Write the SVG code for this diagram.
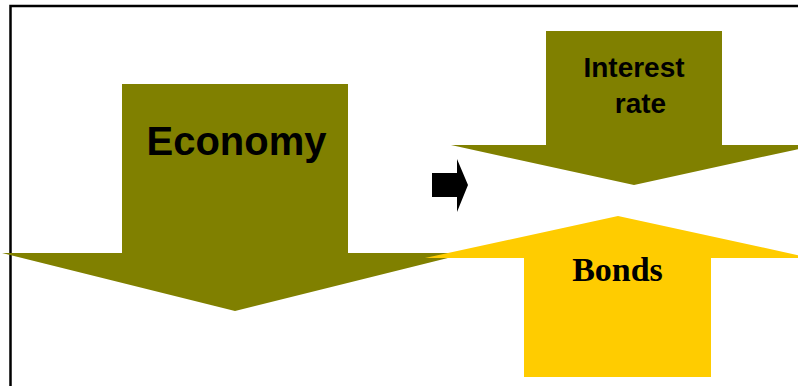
<svg xmlns="http://www.w3.org/2000/svg" width="798" height="386" viewBox="0 0 798 386">
  <style>
    .olive { fill: #808000; }
    .gold { fill: #ffcc00; }
    .frame { fill: none; stroke: #000; stroke-width: 2.5; }
    .sans { font-family: "Liberation Sans", Arial, sans-serif; font-weight: bold; fill: #000; text-anchor: middle; }
    .serif { font-family: "Liberation Serif", "Times New Roman", serif; font-weight: bold; fill: #000; text-anchor: middle; }
  </style>
  <rect width="798" height="386" fill="#fff"/>
  <!-- frame: top and left edges -->
  <path class="frame" d="M10.5,400 V6 H810"/>

  <g id="economy">
    <polygon class="olive" points="122,84 348,84 348,253 468,253 235,311 2,253 122,253"/>
    <text class="sans" x="236.5" y="155" font-size="40">Economy</text>
  </g>

  <g id="interest-rate">
    <polygon class="olive" points="546,31 722,31 722,145 817,145 634,185 451,145 546,145"/>
    <text class="sans" x="634" y="77" font-size="28">Interest</text>
    <text class="sans" x="640.5" y="113" font-size="28">rate</text>
  </g>

  <g id="bonds">
    <polygon class="gold" points="524,377 711,377 711,258 811,258 618,216 425,258 524,258"/>
    <text class="serif" x="617.5" y="281" font-size="34">Bonds</text>
  </g>

  <g id="connectors">
    <polygon fill="#000" points="432,173 457,173 457,159 468,185 457,212 457,197 432,197"/>
  </g>
</svg>
